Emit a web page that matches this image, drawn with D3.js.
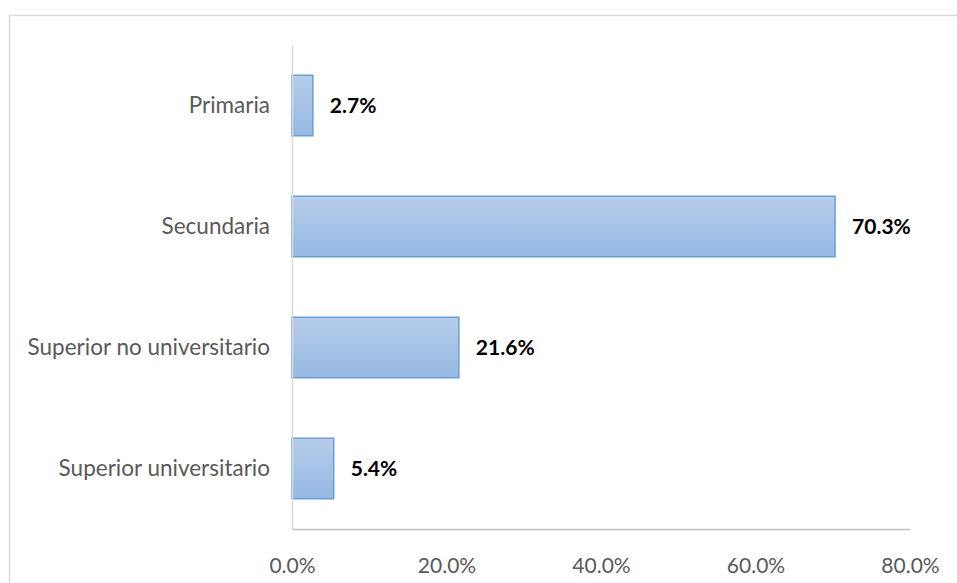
<!DOCTYPE html>
<html>
<head>
<meta charset="utf-8">
<script src="https://d3js.org/d3.v7.min.js"></script>
<style>
  body { margin: 0; background: #fff; }
  svg { display: block; }
</style>
</head>
<body>
<svg id="chart" width="957" height="583"></svg>
<script>
const categories = ["Primaria", "Secundaria", "Superior no universitario", "Superior universitario"];
const values = [2.7, 70.3, 21.6, 5.4];
const xTicks = [0, 20, 40, 60, 80];

const svg = d3.select("#chart");
const fontFamily = "Lato, 'Noto Sans', sans-serif";

// chart frame
svg.append("rect")
    .attr("x", 9.5).attr("y", 15.5)
    .attr("width", 1000).attr("height", 1000)
    .attr("fill", "none")
    .attr("stroke", "#d9d9d9")
    .attr("stroke-width", 1.5);

const margin = {top: 45, left: 292, right: 47, bottom: 54};
const width = 957 - margin.left - margin.right;
const height = 583 - margin.top - margin.bottom;

const x = d3.scaleLinear().domain([0, 80]).range([0, width]);
const y = d3.scaleBand().domain(categories).range([0, height]).paddingInner(0.5).paddingOuter(0.25);

const g = svg.append("g")
    .attr("transform", "translate(" + margin.left + "," + margin.top + ")");

const defs = svg.append("defs");
const grad = defs.append("linearGradient")
    .attr("id", "barGrad")
    .attr("x1", 0).attr("y1", 0).attr("x2", 0).attr("y2", 1);
grad.append("stop").attr("offset", "0%").attr("stop-color", "#b7cdea");
grad.append("stop").attr("offset", "100%").attr("stop-color", "#95b8e2");

// bars
g.selectAll(".bar")
    .data(values)
  .enter().append("rect")
    .attr("class", "bar")
    .attr("x", 0)
    .attr("y", (d, i) => y(categories[i]))
    .attr("width", d => x(d))
    .attr("height", y.bandwidth())
    .attr("fill", "url(#barGrad)")
    .attr("stroke", "#6a9fd6")
    .attr("stroke-width", 1.5);

// value labels
g.selectAll(".val")
    .data(values)
  .enter().append("text")
    .attr("class", "val")
    .attr("x", d => x(d) + 17)
    .attr("y", (d, i) => y(categories[i]) + y.bandwidth() / 2)
    .attr("dy", "0.35em")
    .attr("font-family", fontFamily)
    .attr("font-size", 21)
    .attr("font-weight", "bold")
    .attr("fill", "#000")
    .text(d => d.toFixed(1) + "%");

// y axis
const yAxis = g.append("g")
    .call(d3.axisLeft(y).tickSize(0).tickPadding(22));
yAxis.select(".domain").attr("stroke", "#d9d9d9").attr("stroke-width", 1.5);
yAxis.selectAll("text")
    .attr("font-family", fontFamily)
    .attr("font-size", 22.5)
    .attr("fill", "#595959");

// x axis
const xAxis = g.append("g")
    .attr("transform", "translate(0," + height + ")")
    .call(d3.axisBottom(x).tickValues(xTicks).tickSize(0).tickPadding(29)
        .tickFormat(d => d.toFixed(1) + "%"));
xAxis.select(".domain").attr("stroke", "#bfbfbf").attr("stroke-width", 1.5);
xAxis.selectAll("text")
    .attr("font-family", fontFamily)
    .attr("font-size", 21)
    .attr("fill", "#595959");
</script>
</body>
</html>
